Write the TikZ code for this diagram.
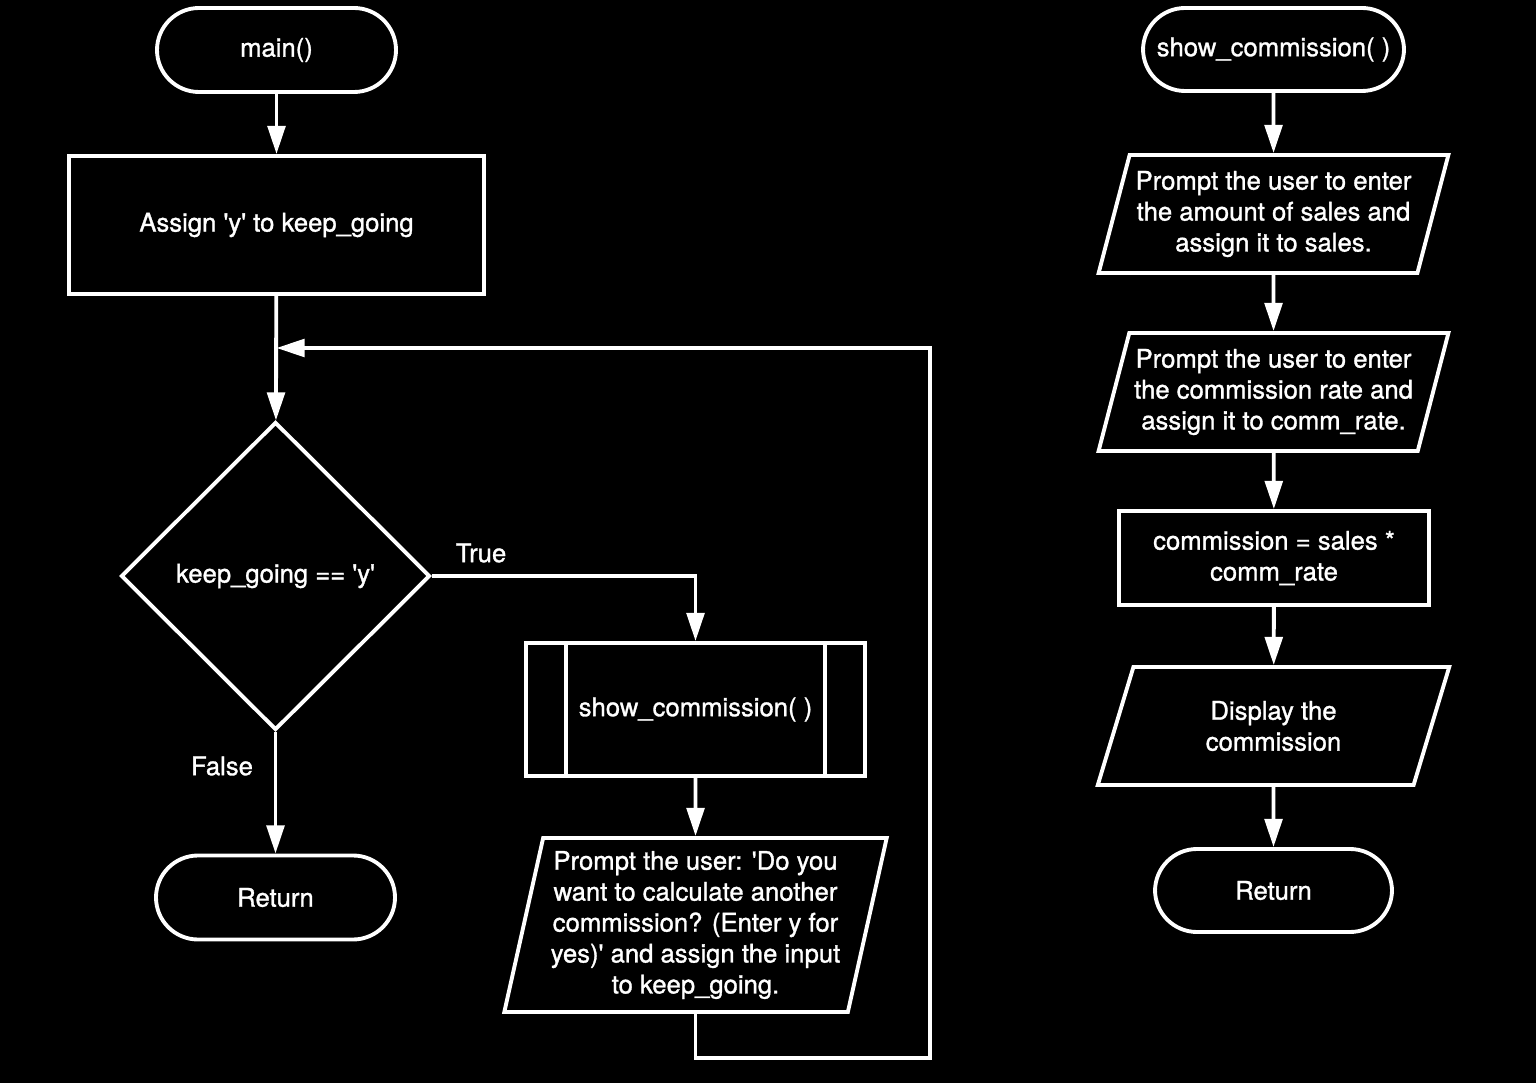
\documentclass[tikz,border=0pt]{standalone}
\usepackage{fontspec}
\setmainfont{TeX Gyre Heros}[FakeBold=1.2]
\usetikzlibrary{arrows.meta,shapes.geometric}
\newcommand{\qt}{\textquotesingle}

\tikzset{
  flow/.style={draw=white, line width=1.1pt, text=white, align=center,
    font=\fontsize{7.3}{8.8}\selectfont, inner sep=0pt},
  term/.style={flow, rectangle, rounded corners=0.42cm, minimum width=2.39cm, minimum height=0.84cm},
  proc/.style={flow, rectangle},
  io/.style={flow, trapezium, trapezium left angle=71, trapezium right angle=109,
    trapezium stretches=true, minimum width=3.53cm, minimum height=1.18cm},
  decide/.style={flow, diamond, minimum width=3.09cm, minimum height=3.08cm},
  link/.style={white, line width=1.1pt, -{Triangle[length=8pt,width=5pt]}},
  lbl/.style={text=white, font=\fontsize{7.3}{8.8}\selectfont},
}

\begin{document}
\begin{tikzpicture}
  \fill[black] (0,0) rectangle (15.36,-10.83);
  \useasboundingbox (0,0) rectangle (15.36,-10.83);

  % main()
  \node[term] (main) at (2.765,-0.50) {main()};
  \node[proc, minimum width=4.15cm, minimum height=1.38cm] (assign) at (2.765,-2.25)
    {Assign \qt y\qt{} to keep\_going};
  \node[decide] (cond) at (2.755,-5.76) {keep\_going == \qt y\qt};
  \node[term] (ret1) at (2.755,-8.975) {Return};
  \node[proc, minimum width=3.39cm, minimum height=1.33cm] (sub) at (6.955,-7.095)
    {show\_commission( )};
  \draw[white, line width=1.1pt] ([xshift=0.42cm]sub.north west) -- ([xshift=0.42cm]sub.south west);
  \draw[white, line width=1.1pt] ([xshift=-0.42cm]sub.north east) -- ([xshift=-0.42cm]sub.south east);
  \node[io, minimum width=3.83cm, minimum height=1.74cm, trapezium left angle=76,
    trapezium right angle=104] (ask) at (6.955,-9.25)
    {Prompt the user: \qt Do you\\ want to calculate another\\ commission? (Enter y for\\
     yes)\qt{} and assign the input\\ to keep\_going.};
  \coordinate (back) at (9.30,-10.58);
  \coordinate (join) at (2.765,-3.48);

  \draw[link] (main) -- (assign);
  \draw[link] (assign) -- (cond);
  \draw[link] (cond.east) -| (sub.north);
  \draw[link] (cond) -- (ret1);
  \draw[link] (sub) -- (ask);
  \draw[link] (ask.south) |- (back) |- (join);
  \node[lbl] (truelbl) at (4.81,-5.53) {True};
  \node[lbl] (falselbl) at (2.22,-7.66) {False};

  % show_commission()
  \node[term, minimum width=2.61cm, minimum height=0.83cm] (show) at (12.735,-0.495)
    {show\_commission( )};
  \node[io] (getsales) at (12.735,-2.14)
    {Prompt the user to enter\\ the amount of sales and\\ assign it to sales.};
  \node[io] (getrate) at (12.735,-3.92)
    {Prompt the user to enter\\ the commission rate and\\ assign it to comm\_rate.};
  \node[proc, minimum width=3.10cm, minimum height=0.94cm] (calc) at (12.74,-5.58)
    {commission = sales *\\ comm\_rate};
  \node[io] (disp) at (12.735,-7.26) {Display the\\ commission};
  \node[term, minimum width=2.37cm, minimum height=0.83cm] (ret2) at (12.735,-8.905) {Return};

  \draw[link] (show) -- (getsales);
  \draw[link] (getsales) -- (getrate);
  \draw[link] (getrate) -- (calc);
  \draw[link] (calc) -- (disp);
  \draw[link] (disp) -- (ret2);
\end{tikzpicture}
\end{document}
